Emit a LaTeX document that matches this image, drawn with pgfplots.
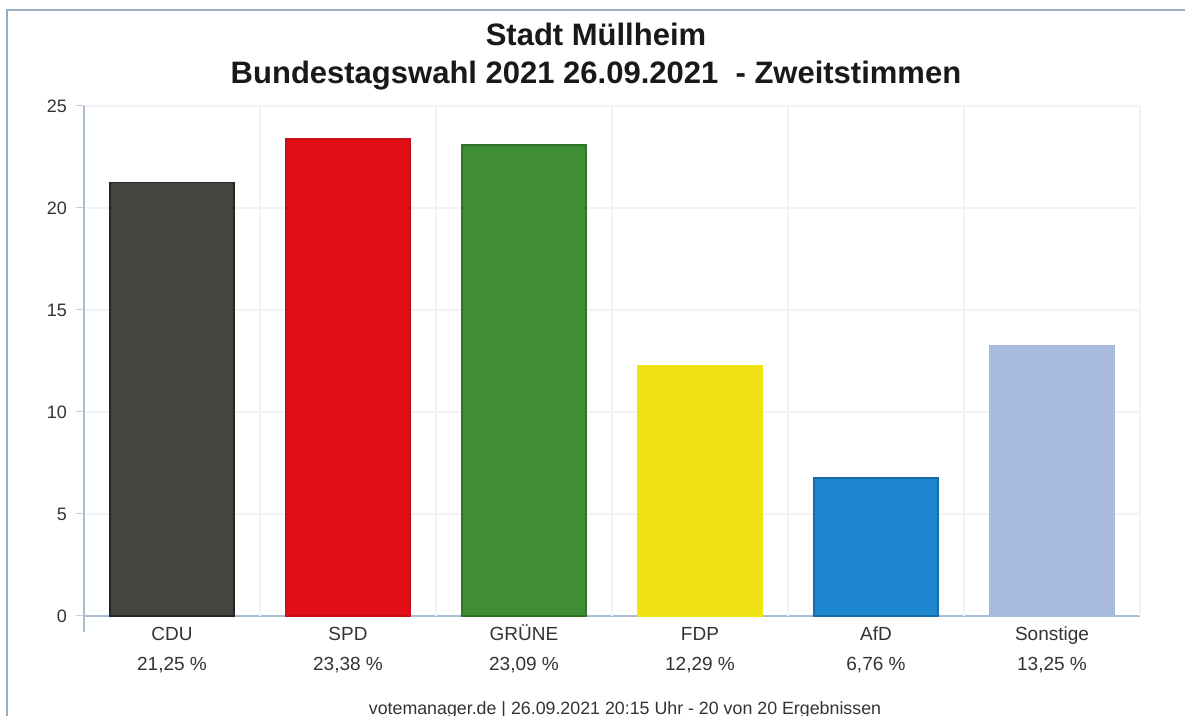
\documentclass[border=0pt]{standalone}
\usepackage{pgfplots}
\pgfplotsset{compat=1.18}
\usepackage{fontspec}
\setmainfont{Liberation Sans}
\definecolor{framec}{HTML}{94AFC5}
\definecolor{axc}{HTML}{A9BDD0}
\definecolor{gridc}{HTML}{F3F3F6}
\definecolor{txt}{HTML}{333333}
\definecolor{cdu}{HTML}{45443F}
\definecolor{spd}{HTML}{E20E18}
\definecolor{gruene}{HTML}{3F8E36}
\definecolor{fdp}{HTML}{F0E314}
\definecolor{afd}{HTML}{1C87CE}
\definecolor{sonst}{HTML}{A9BBDE}
\begin{document}
\begin{tikzpicture}
\useasboundingbox (0,0) rectangle (592.5pt,358pt);
\clip (0,0) rectangle (592.5pt,358pt);
\fill[white] (0,0) rectangle (592.5pt,358pt);
\draw[framec, line width=1pt] (3.5pt,-2pt) -- (3.5pt,353pt) -- (595pt,353pt);
\begin{axis}[
  at={(42pt,50pt)}, anchor=south west,
  scale only axis, width=528pt, height=255pt,
  xmin=-0.5, xmax=5.5, ymin=0, ymax=25,
  axis x line*=bottom, axis y line*=left,
  axis line style={axc, line width=0.6pt},
  ytick={0,5,...,25},
  xtick={0,...,5},
  xticklabels={{\strut CDU\\21,25 \%},{\strut SPD\\23,38 \%},{\strut GRÜNE\\23,09 \%},{\strut FDP\\12,29 \%},{\strut AfD\\6,76 \%},{\strut Sonstige\\13,25 \%}},
  xticklabel style={align=center, font=\fontsize{9.5}{15}\selectfont, text=txt},
  yticklabel style={font=\fontsize{9}{10}\selectfont, text=txt},
  /pgf/number format/assume math mode=true,
  major x tick style={draw=none},
  minor xtick={-0.5},
  minor x tick style={axc, line width=0.6pt},
  minor tick length=8pt,
  major tick length=4pt,
  tick align=outside,
  ytick style={black!20, line width=0.5pt},
  ymajorgrids,
  extra x ticks={0.5,1.5,...,5.5},
  extra x tick labels={},
  extra x tick style={major tick length=0pt, xmajorgrids, major grid style={gridc, line width=0.6pt}},
  major grid style={gridc, line width=0.6pt},
  xticklabel shift=-6pt,
  yticklabel shift=1pt,
  bar width=62pt,
  clip=false,
]
\addplot[ybar, bar shift=0pt, fill=cdu, draw=black!85, line width=0.8pt] coordinates {(0,21.25)};
\addplot[ybar, bar shift=0pt, fill=spd, draw=spd!90!black, line width=0.6pt] coordinates {(1,23.38)};
\addplot[ybar, bar shift=0pt, fill=gruene, draw=gruene!80!black, line width=0.6pt] coordinates {(2,23.09)};
\addplot[ybar, bar shift=0pt, fill=fdp, draw=fdp, line width=0.6pt] coordinates {(3,12.29)};
\addplot[ybar, bar shift=0pt, fill=afd, draw=afd!80!black, line width=0.6pt] coordinates {(4,6.76)};
\addplot[ybar, bar shift=0pt, fill=sonst, draw=sonst, line width=0.6pt] coordinates {(5,13.25)};
\end{axis}
\node[font=\bfseries\fontsize{15.5}{17}\selectfont, text=black!90] at (298pt,341pt) {Stadt Müllheim};
\node[font=\bfseries\fontsize{15.5}{17}\selectfont, text=black!90] at (298pt,320pt) {Bundestagswahl 2021 26.09.2021 \ - Zweitstimmen};
\node[font=\fontsize{8.9}{10}\selectfont, text=txt, anchor=base] at (312.5pt,0.5pt) {votemanager.de | 26.09.2021 20:15 Uhr - 20 von 20 Ergebnissen};
\end{tikzpicture}
\end{document}
